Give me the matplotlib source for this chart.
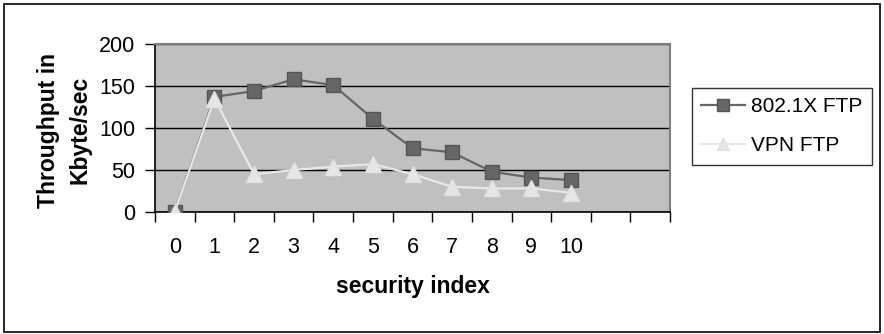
import matplotlib.pyplot as plt
import matplotlib.patches as patches
import numpy as np

plt.rcParams["font.family"] = ["Liberation Sans", "DejaVu Sans"]

security_index = np.arange(11)
tick_labels = [str(i) for i in security_index]
ftp_8021x = [0, 137, 144, 158, 151, 111, 76, 71, 48, 41, 38]
ftp_vpn = [0, 135, 45, 50, 54, 57, 45, 30, 28, 28, 23]
n_slots = 13  # category axis leaves two empty slots after the last index

fig = plt.figure(figsize=(8.84, 3.34), dpi=100)
ax = fig.add_axes([155 / 884, 1 - 212 / 334, 515 / 884, 168 / 334])
ax.set_facecolor("#c0c0c0")

ax.plot(security_index, ftp_8021x, color="#666666", lw=1.6,
        marker="s", ms=10, mec="#555555", mfc="#666666", label="802.1X FTP",
        zorder=3)
ax.plot(security_index, ftp_vpn, color="#e8e8e8", lw=1.6,
        marker="^", ms=11, mec="#e0e0e0", mfc="#e6e6e6", label="VPN FTP",
        zorder=3)

ax.set_xlim(-0.5, n_slots - 0.5)
ax.set_ylim(0, 200)
ax.set_yticks([0, 50, 100, 150, 200])
ax.yaxis.grid(True, color="black", lw=1)
ax.set_axisbelow(True)

ax.set_xticks(np.arange(n_slots + 1) - 0.5)
ax.set_xticklabels([])
ax.set_xticks(security_index, minor=True)
ax.set_xticklabels(tick_labels, minor=True)
ax.tick_params(axis="x", which="major", length=7, width=1, direction="out")
ax.tick_params(axis="x", which="minor", length=0, pad=18, labelsize=15.5)
ax.tick_params(axis="y", length=7, width=1, direction="out", labelsize=15.5, pad=7)

for side in ("top", "right"):
    ax.spines[side].set_color("#808080")
    ax.spines[side].set_linewidth(1.5)
for side in ("left", "bottom"):
    ax.spines[side].set_color("black")
    ax.spines[side].set_linewidth(1.2)

ax.set_xlabel("security index", fontsize=16.5, fontweight="bold", va="center")
ax.xaxis.set_label_coords(0.5, (212 - 287) / 168)
ax.set_ylabel("Throughput in\nKbyte/sec", fontsize=16.5, fontweight="bold",
              va="center", linespacing=1.5)
ax.yaxis.set_label_coords((64 - 155) / 515, (212 - 130) / 168)

leg = fig.legend(loc="upper left", bbox_to_anchor=(692 / 884, 1 - 88 / 334),
                 fontsize=15, frameon=True, fancybox=False, edgecolor="black",
                 handlelength=2.1, handletextpad=0.3, borderpad=0.45,
                 labelspacing=0.95, markerscale=0.8, borderaxespad=0)
leg.get_frame().set_linewidth(1)

fig.patches.append(patches.Rectangle((4 / 884, 2 / 334), 876 / 884, 328 / 334,
                                     transform=fig.transFigure, fill=False,
                                     edgecolor="black", lw=1.2))

fig.savefig("out.png", dpi=100)
plt.close(fig)
